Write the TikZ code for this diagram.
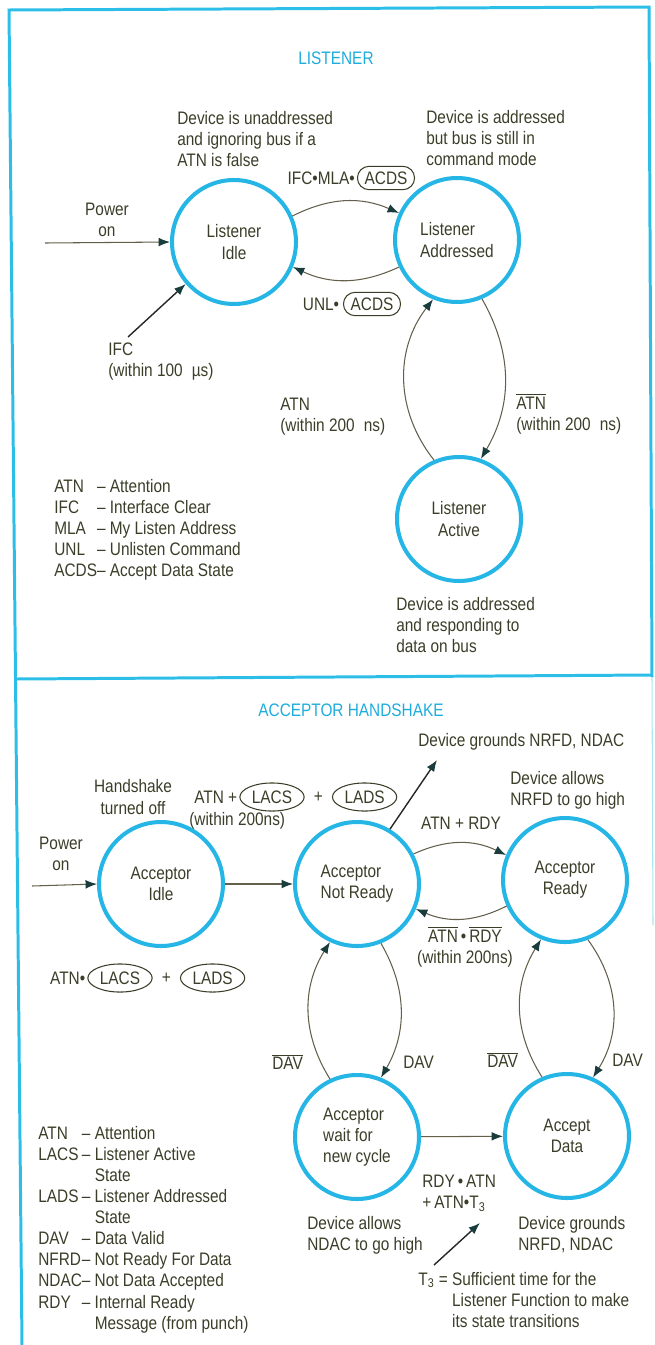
\documentclass[tikz,border=0pt]{standalone}
\usepackage{fontspec}
\setmainfont{Liberation Sans}[FakeStretch=0.85]
\usepackage{xcolor}
\usepackage{tikz}
\usetikzlibrary{
    arrows.meta,
    positioning,
    shapes.geometric,
    shapes.misc
}
\definecolor{ringcol}{RGB}{38,182,230}
\definecolor{framecol}{RGB}{45,190,232}
\definecolor{headcol}{RGB}{30,172,220}
\definecolor{ink}{RGB}{58,62,40}
\definecolor{linecol}{RGB}{100,95,75}
\definecolor{tipcol}{RGB}{25,60,60}
\newcommand\figfont{\fontsize{10.3}{12}\selectfont}
\newcommand\ovl[1]{$\overline{\mbox{#1}}$}
\tikzset
{
  state/.style={circle,draw=ringcol,line width=2.3pt,minimum size=2.48cm,inner sep=0pt,text=ink,font=\figfont,align=center},
  trans/.style={draw=linecol,line width=0.6pt,-{Latex[length=6.5pt,width=5pt,color=tipcol]}},
  pointer/.style={draw=black!85,line width=0.8pt,-{Latex[length=6.5pt,width=5pt,color=tipcol]}},
  note/.style={text=ink,font=\figfont,inner sep=0pt,align=left},
  pill/.style={rounded rectangle,draw=ink,line width=0.6pt,text=ink,font=\figfont,inner xsep=3pt,inner ysep=3pt},
  oval/.style={ellipse,draw=ink,line width=0.6pt,text=ink,font=\figfont,inner xsep=1.5pt,inner ysep=2pt},
  heading/.style={text=headcol,font=\figfont},
  frame/.style={draw=framecol,line width=1.7pt}
}

\begin{document}
\begin{tikzpicture}[x=0.02cm,y=0.02cm]
        \useasboundingbox (0,0) rectangle (655,-1345);

        % Frame
        \draw[frame] (22,-1345) -- (9,-10) -- (649,-7) -- (652,-677);
        \draw[frame] (16,-679) -- (652,-675);
        \draw[draw=framecol!40,line width=0.6pt] (652,-677) -- (653,-925);

        % Listener
        \node[heading] (lsttitle) at (336,-58) {LISTENER};

        \node[state] (lidle) at (234,-242) {Listener\\Idle};
        \node[state,align=left] (ladd) at (457,-240) {Listener\\Addressed};
        \node[state] (lact) at (459,-519) {Listener\\Active};

        \coordinate (lpwr) at (45,-243);
        \coordinate (lifc) at (128,-337);

        \draw[trans] (lpwr) -- (lidle.west);
        \draw[pointer] (lifc) -- (lidle.221);
        \draw[trans] (lidle.24) to[bend left=25] (ladd.155);
        \draw[trans] (ladd.205) to[bend left=25] (lidle.337);
        \draw[trans] (lact.113) to[bend left=38] (ladd.248);
        \draw[trans] (ladd.293) to[bend left=30] (lact.70);

        \node[note,align=center] (lpwrtxt) at (107,-220) {Power\\on};
        \node[note,anchor=west] (lifctxt) at (108,-362) {IFC\\(within 100\enspace µs)};
        \node[note,anchor=west] (lidletxt) at (177,-139) {Device is unaddressed\\and ignoring bus if a\\ATN is false};
        \node[note,anchor=west] (laddtxt) at (426,-138) {Device is addressed\\but bus is still in\\command mode};
        \node[note,anchor=west] (lacttxt) at (396,-625) {Device is addressed\\and responding to\\data on bus};

        \node[pill] (acdsa) at (386,-178) {ACDS};
        \node[note,left=1pt of acdsa] (mlatxt) {IFC•MLA•};
        \node[pill] (acdsb) at (372,-304) {ACDS};
        \node[note,left=2pt of acdsb] (unltxt) {UNL•};

        \node[note,anchor=west] (atntxt) at (280,-417) {ATN\\(within 200\enspace ns)};
        \node[note,anchor=west] (natntxt) at (516,-414) {\ovl{ATN}\\(within 200\enspace ns)};

        % Listener legend
        \node[note,anchor=west] (lstkey) at (54,-530) {%
          \begin{tabular}{@{}l@{}c@{ }l@{}}
            ATN & -- & Attention\\
            IFC & -- & Interface Clear\\
            MLA & -- & My Listen Address\\
            UNL & -- & Unlisten Command\\
            ACDS & -- & Accept Data State
          \end{tabular}};

        % Acceptor handshake
        \node[heading] (acctitle) at (351,-710) {ACCEPTOR HANDSHAKE};

        \node[state] (aidle) at (161,-884) {Acceptor\\Idle};
        \node[state,align=left] (anrdy) at (357,-884) {Acceptor\\Not Ready};
        \node[state] (ardy) at (565,-880) {Acceptor\\Ready};
        \node[state,align=left] (await) at (357,-1137) {Acceptor\\wait for\\new cycle};
        \node[state] (adata) at (567,-1136) {Accept\\Data};

        \coordinate (apwr) at (32,-886);
        \coordinate (agnd) at (437,-760);
        \coordinate (tthree) at (434,-1265);
        \coordinate (ttwo) at (480,-1223);

        \draw[trans] (apwr) -- (aidle.west);
        \draw[trans] (aidle) -- (anrdy);
        \draw[pointer] (anrdy.59) -- (agnd);
        \draw[trans] (anrdy.28) to[bend left=25] (ardy.157);
        \draw[trans] (ardy.204) to[bend left=25] (anrdy.337);
        \draw[trans] (await.115) to[bend left=32] (anrdy.245);
        \draw[trans] (anrdy.292) to[bend left=30] (await.68);
        \draw[trans] (adata.113) to[bend left=32] (ardy.248);
        \draw[trans] (ardy.291) to[bend left=34] (adata.66);
        \draw[trans] (await) -- (adata);
        \draw[pointer] (tthree) -- (ttwo);

        \node[note,align=center] (apwrtxt) at (61,-854) {Power\\on};
        \node[note,align=center] (offtxt) at (133,-797) {Handshake\\turned off};
        \node[oval] (lacsa) at (272,-797) {LACS};
        \node[note,left=1pt of lacsa] (atnplus) {ATN +};
        \node[note,right=5pt of lacsa] (plusa) {+};
        \node[oval,right=5pt of plusa] (ladsa) {LADS};
        \node[note,anchor=west] (w200a) at (189,-821) {(within 200ns)};

        \node[note,anchor=west] (gndtxt) at (418,-742) {Device grounds NRFD, NDAC};
        \node[note,anchor=west] (nrfdtxt) at (510,-790) {Device allows\\NRFD to go high};
        \node[note] (rdytxt) at (461,-823) {ATN + RDY};
        \node[note,align=center] (nrdytxt) at (465,-947) {\ovl{ATN}\,•\,\ovl{RDY}\\(within 200ns)};

        \node[oval] (lacsb) at (120,-978) {LACS};
        \node[note,left=1pt of lacsb] (atndot) {ATN•};
        \node[note,right=5pt of lacsb] (plusb) {+};
        \node[oval,right=5pt of plusb] (ladsb) {LADS};

        \node[note,anchor=west] (ndava) at (272,-1062) {\ovl{DAV}};
        \node[note,anchor=west] (dava) at (403,-1062) {DAV};
        \node[note,anchor=west] (ndavb) at (487,-1060) {\ovl{DAV}};
        \node[note,anchor=west] (davb) at (612,-1060) {DAV};

        \node[note,anchor=west] (cyctxt) at (422,-1193) {RDY\,•\,ATN\\+\,ATN•T\textsubscript{3}};
        \node[note,anchor=west] (ndactxt) at (307,-1235) {Device allows\\NDAC to go high};
        \node[note,anchor=west] (grdtxt) at (518,-1235) {Device grounds\\NRFD, NDAC};
        \node[note,anchor=north west] (ttxt) at (418,-1270) {%
          \begin{tabular}{@{}l@{ }l@{}}
            T\textsubscript{3} = & Sufficient time for the\\
            & Listener Function to make\\
            & its state transitions
          \end{tabular}};

        % Acceptor legend
        \node[note,anchor=west] (acckey) at (38,-1230) {%
          \begin{tabular}{@{}l@{}c@{ }l@{}}
            ATN & -- & Attention\\
            LACS & -- & Listener Active\\
            & & State\\
            LADS & -- & Listener Addressed\\
            & & State\\
            DAV & -- & Data Valid\\
            NFRD & -- & Not Ready For Data\\
            NDAC & -- & Not Data Accepted\\
            RDY & -- & Internal Ready\\
            & & Message (from punch)
          \end{tabular}};
    \end{tikzpicture}
\end{document}
